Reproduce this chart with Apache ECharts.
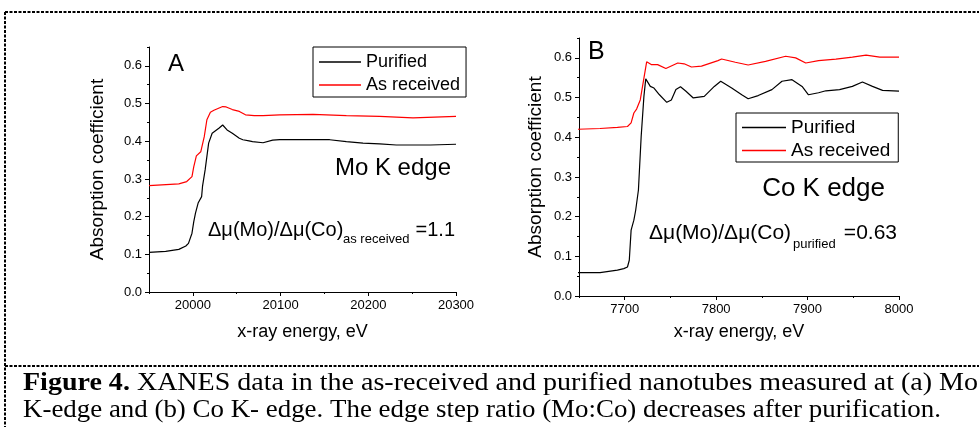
<!DOCTYPE html>
<html>
<head>
    <meta charset="utf-8">
    <title>XANES Mo / Co K edge</title>
    <script src="https://cdn.jsdelivr.net/npm/echarts@6/dist/echarts.min.js"></script>
    <style>
        html, body { margin: 0; padding: 0; background: #fff; }
        #main { width: 979px; height: 427px; }
    </style>
</head>
<body>
<div id="main"></div>
<script type="text/javascript">
    // panel A - Mo K edge
    var moEnergyPur = [19950, 19969, 19984, 19992, 19995, 19999, 20001, 20003, 20006, 20010, 20011, 20014, 20018, 20022, 20030, 20034, 20036, 20039, 20045, 20053, 20057, 20064, 20068, 20080, 20091, 20099, 20118, 20156, 20175, 20194, 20213, 20232, 20271, 20300];
    var moPurified = [0.105, 0.108, 0.113, 0.122, 0.129, 0.156, 0.186, 0.209, 0.236, 0.253, 0.28, 0.324, 0.395, 0.421, 0.435, 0.443, 0.444, 0.43, 0.421, 0.408, 0.404, 0.401, 0.399, 0.396, 0.403, 0.404, 0.404, 0.404, 0.399, 0.395, 0.393, 0.39, 0.39, 0.392];
    var moEnergyRec = [19950, 19984, 19993, 19995, 19999, 20001, 20004, 20006, 20009, 20013, 20016, 20020, 20024, 20034, 20036, 20038, 20045, 20053, 20060, 20070, 20080, 20099, 20137, 20175, 20213, 20251, 20300];
    var moAsReceived = [0.282, 0.287, 0.293, 0.297, 0.306, 0.332, 0.361, 0.364, 0.372, 0.412, 0.457, 0.477, 0.482, 0.492, 0.494, 0.491, 0.484, 0.479, 0.470, 0.468, 0.468, 0.470, 0.471, 0.468, 0.466, 0.462, 0.466];

    // panel B - Co K edge
    var coEnergyPur = [7648, 7673, 7692, 7699, 7703, 7705, 7707, 7710, 7712, 7715, 7718, 7721, 7723, 7725, 7728, 7732, 7738, 7746, 7751, 7756, 7761, 7767, 7775, 7787, 7798, 7805, 7817, 7828, 7835, 7846, 7861, 7872, 7883, 7894, 7901, 7912, 7920, 7935, 7949, 7960, 7971, 7982, 8000];
    var coPurified = [0.059, 0.059, 0.065, 0.069, 0.073, 0.090, 0.166, 0.191, 0.216, 0.267, 0.402, 0.503, 0.547, 0.545, 0.528, 0.524, 0.507, 0.488, 0.494, 0.520, 0.527, 0.516, 0.499, 0.503, 0.528, 0.541, 0.524, 0.507, 0.497, 0.505, 0.520, 0.541, 0.545, 0.528, 0.507, 0.512, 0.517, 0.520, 0.528, 0.539, 0.528, 0.518, 0.516];
    var coEnergyRec = [7648, 7673, 7692, 7703, 7707, 7710, 7713, 7717, 7721, 7724, 7729, 7736, 7745, 7758, 7765, 7773, 7784, 7802, 7806, 7821, 7835, 7854, 7876, 7887, 7898, 7912, 7931, 7949, 7964, 7979, 8000];
    var coAsReceived = [0.420, 0.422, 0.425, 0.427, 0.436, 0.461, 0.471, 0.494, 0.549, 0.590, 0.583, 0.583, 0.573, 0.587, 0.585, 0.577, 0.579, 0.593, 0.597, 0.589, 0.582, 0.591, 0.604, 0.600, 0.587, 0.593, 0.597, 0.602, 0.607, 0.602, 0.602];

    // ticks
    var moTicks = [20000, 20100, 20200, 20300];
    var moMinorTicks = [19950, 20050, 20150, 20250];
    var coTicks = [7700, 7800, 7900, 8000];
    var coMinorTicks = [7650, 7750, 7850, 7950];
    var yTicks = [0, 0.1, 0.2, 0.3, 0.4, 0.5, 0.6];
    var yMinorTicks = [0.05, 0.15, 0.25, 0.35, 0.45, 0.55, 0.65];

    var sans = '"Liberation Sans", Arial, sans-serif';
    var serif = '"Liberation Serif", "Times New Roman", serif';

    function pairs(xs, ys) {
        var out = [];
        for (var i = 0; i < xs.length; i++) out.push([xs[i], ys[i]]);
        return out;
    }

    function mainX(grid, min, max, ticks, gap) {
        return {
            type: 'value', gridIndex: grid, min: min, max: max, position: 'bottom',
            axisLine: { onZero: false, lineStyle: { color: '#000', width: 1 } },
            axisTick: { customValues: ticks, length: 4, lineStyle: { color: '#000' } },
            axisLabel: { customValues: ticks, color: '#000', fontSize: 13, fontFamily: sans, margin: 7,
                formatter: function (v) { return String(v); } },
            splitLine: { show: false },
            name: 'x-ray energy, eV', nameLocation: 'middle', nameGap: gap,
            nameTextStyle: { color: '#000', fontSize: 18, fontFamily: sans }
        };
    }
    function minorX(grid, min, max, ticks) {
        return {
            type: 'value', gridIndex: grid, min: min, max: max, position: 'bottom',
            axisLine: { show: false, onZero: false },
            axisTick: { customValues: ticks, length: 2, lineStyle: { color: '#000' } },
            axisLabel: { show: false }, splitLine: { show: false }
        };
    }
    function mainY(grid, gap) {
        return {
            type: 'value', gridIndex: grid, min: 0, max: 0.65, position: 'left',
            axisLine: { show: true, onZero: false, lineStyle: { color: '#000', width: 1 } },
            axisTick: { show: true, customValues: yTicks, length: 4, lineStyle: { color: '#000' } },
            axisLabel: { customValues: yTicks, color: '#000', fontSize: 13, fontFamily: sans, margin: 7,
                formatter: function (v) { return v.toFixed(1); } },
            splitLine: { show: false },
            name: 'Absorption coefficient', nameLocation: 'middle', nameRotate: 90, nameGap: gap,
            nameTextStyle: { color: '#000', fontSize: 19, fontFamily: sans }
        };
    }
    function minorY(grid) {
        return {
            type: 'value', gridIndex: grid, min: 0, max: 0.65, position: 'left',
            axisLine: { show: false, onZero: false },
            axisTick: { show: true, customValues: yMinorTicks, length: 2, lineStyle: { color: '#000' } },
            axisLabel: { show: false }, splitLine: { show: false }
        };
    }

    function lineSeries(name, color, xIdx, yIdx, data) {
        return {
            name: name, type: 'line', xAxisIndex: xIdx, yAxisIndex: yIdx,
            data: data, symbol: 'none', showSymbol: false, animation: false,
            lineStyle: { color: color, width: 1.2 }, itemStyle: { color: color }
        };
    }

    // caption stretched to the reference line widths
    var capSize = 25;
    var ctx = document.createElement('canvas').getContext('2d');
    function textW(txt, weight) {
        ctx.font = (weight || 'normal') + ' ' + capSize + 'px ' + serif;
        return ctx.measureText(txt).width;
    }
    var cap1b = 'Figure 4.';
    var cap1 = ' XANES data in the as-received and purified nanotubes measured at (a) Mo';
    var cap2 = 'K-edge and (b) Co K- edge. The edge step ratio (Mo:Co) decreases after purification.';
    var sx1 = 955 / (textW(cap1b, 'bold') + textW(cap1));
    var sx2 = 918 / textW(cap2);

    function txt(x, y, s, size, align) {
        return {
            type: 'text', x: x, y: y, z: 10,
            style: { text: s, fill: '#000', font: size + 'px ' + sans, textAlign: align || 'left', textVerticalAlign: 'middle' }
        };
    }
    function dash(x1, y1, x2, y2) {
        return {
            type: 'line', z: 10, shape: { x1: x1, y1: y1, x2: x2, y2: y2 },
            style: { stroke: '#000', lineWidth: 2, lineDash: [3, 1.5] }
        };
    }
    function legendBox(left, top, size, iconW, gap, pad) {
        return {
            left: left, top: top, orient: 'vertical', selectedMode: false,
            data: ['Purified', 'As received'], icon: 'rect',
            itemWidth: iconW, itemHeight: 1.3, itemGap: gap, padding: pad,
            borderColor: '#000', borderWidth: 1, borderRadius: 0,
            textStyle: { color: '#000', fontSize: size, fontFamily: sans }
        };
    }

    var chart = echarts.init(document.getElementById('main'));
    chart.setOption({
        animation: false,
        backgroundColor: '#fff',
        textStyle: { fontFamily: sans },
        grid: [
            { left: 149, top: 47, width: 307, height: 245 },
            { left: 579, top: 38, width: 320, height: 258 }
        ],
        xAxis: [
            mainX(0, 19950, 20300, moTicks, 31),
            minorX(0, 19950, 20300, moMinorTicks),
            mainX(1, 7650, 8000, coTicks, 27),
            minorX(1, 7650, 8000, coMinorTicks)
        ],
        yAxis: [mainY(0, 42), minorY(0), mainY(1, 34), minorY(1)],
        legend: [
            legendBox(313, 47, 18, 42, 5, [6, 6, 3, 6]),
            legendBox(736, 113, 19, 44, 4, [5, 8, 2, 6])
        ],
        series: [
            lineSeries('Purified', '#000', 0, 0, pairs(moEnergyPur, moPurified)),
            lineSeries('As received', '#ff0000', 0, 0, pairs(moEnergyRec, moAsReceived)),
            lineSeries('Purified', '#000', 2, 2, pairs(coEnergyPur, coPurified)),
            lineSeries('As received', '#ff0000', 2, 2, pairs(coEnergyRec, coAsReceived))
        ],
        graphic: [
            dash(5, 12, 979, 12),
            dash(5, 12, 5, 427),
            dash(5, 366, 979, 366),
            txt(168, 64, 'A', 24),
            txt(588, 52, 'B', 25),
            txt(451, 168, 'Mo K edge', 24, 'right'),
            txt(885, 189, 'Co K edge', 26, 'right'),
            txt(208, 230, '\u0394\u03bc(Mo)/\u0394\u03bc(Co)', 20),
            txt(343, 239.5, 'as received', 13),
            txt(455, 230, '=1.1', 20, 'right'),
            txt(649, 233, '\u0394\u03bc(Mo)/\u0394\u03bc(Co)', 21),
            txt(793, 244.5, 'purified', 13),
            txt(897, 233, '=0.63', 21, 'right'),
            {
                type: 'text', x: 23, y: 383.5, z: 10, scaleX: sx1,
                style: {
                    text: '{b|' + cap1b + '}' + cap1, fill: '#000', font: capSize + 'px ' + serif,
                    textVerticalAlign: 'middle',
                    rich: { b: { fontWeight: 'bold', fontSize: capSize, fontFamily: serif } }
                }
            },
            {
                type: 'text', x: 23, y: 410, z: 10, scaleX: sx2,
                style: { text: cap2, fill: '#000', font: capSize + 'px ' + serif, textVerticalAlign: 'middle' }
            }
        ]
    });
</script>
</body>
</html>
